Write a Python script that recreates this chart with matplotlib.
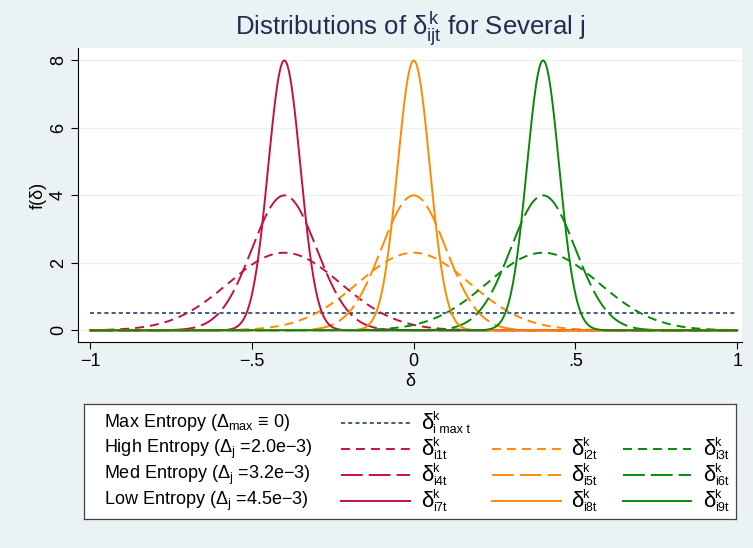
import numpy as np
import matplotlib.pyplot as plt

plt.rcParams['font.family'] = ['Liberation Sans', 'DejaVu Sans']
plt.rcParams['mathtext.fontset'] = 'custom'
plt.rcParams['mathtext.rm'] = 'Liberation Sans'
plt.rcParams['mathtext.it'] = 'Liberation Sans'
plt.rcParams['mathtext.sf'] = 'Liberation Sans'

# three groups of j, centred here
means = [-0.4, 0.0, 0.4]
# entropy levels, peak height of each density and its Delta_j
levels = ["High", "Med", "Low"]
peaks = [2.3, 4.0, 8.0]
deltas = ["2.0e\u22123", "3.2e\u22123", "4.5e\u22123"]
max_entropy = 0.5  # uniform on [-1, 1]

xticks = [-1, -0.5, 0, 0.5, 1]
xticklabels = ["\u22121", "\u2212.5", "0", ".5", "1"]
yticks = [0, 2, 4, 6, 8]

colors = ['#c4123f', '#ff8a00', '#0a870a']
lw = 1.4
dashes = [(0, (4.6, 3.1)), (0, (11.2, 3.1)), '-']
dots = (0, (2.1, 1.6))
navy = '#3f5f80'
bg = '#eaf2f3'

W, H = 753, 548
fig = plt.figure(figsize=(W / 100, H / 100), dpi=100, facecolor=bg)
ax = fig.add_axes([78 / W, 1 - 342 / H, (742 - 78) / W, (342 - 48) / H])
ax.set_facecolor('white')

x = np.linspace(-1, 1, 1001)
ax.plot(x, np.full_like(x, max_entropy), color=navy, lw=lw, ls=dots)
for lev, pk in enumerate(peaks):
    sd = 1 / (pk * np.sqrt(2 * np.pi))
    for g, mu in enumerate(means):
        y = pk * np.exp(-0.5 * ((x - mu) / sd) ** 2)
        ax.plot(x, y, color=colors[g], lw=lw, ls=dashes[lev])

ax.set_xlim(-1.038, 1.015)
ax.set_ylim(-0.347, 8.37)
ax.set_xticks(xticks)
ax.set_xticklabels(xticklabels)
ax.set_yticks(yticks)
ax.set_yticklabels([str(t) for t in yticks], rotation=90, va='center')
ax.tick_params(labelsize=13, length=5, width=0.8, color='black', pad=3)
ax.grid(axis='y', color=bg, lw=1)
ax.set_axisbelow(True)
for s in ['top', 'right']:
    ax.spines[s].set_visible(False)
for s in ['left', 'bottom']:
    ax.spines[s].set_linewidth(0.8)
ax.set_xlabel("\u03b4", fontsize=13, labelpad=2)
ax.set_ylabel("f(\u03b4)", fontsize=13, labelpad=2)
ax.set_title(r"Distributions of $\delta^{k}_{ijt}$ for Several j",
             fontsize=18.5, color='#1e2d50', pad=7)


def delta_sym(a, xs, yr, sub):
    a.text(xs, yr + 1, "\u03b4", fontsize=16, va='center', ha='left')
    a.text(xs + 11, yr - 6, "k", fontsize=9, va='center', ha='left')
    a.text(xs + 12, yr + 7, sub, fontsize=9, va='center', ha='left')


# legend box
lax = fig.add_axes([84 / W, 1 - 519 / H, (736 - 84) / W, (519 - 404) / H])
lax.set_xlim(84, 736)
lax.set_ylim(519, 404)
lax.set_xticks([])
lax.set_yticks([])
lax.set_facecolor('white')
for s in lax.spines.values():
    s.set_color('#444444')
    s.set_linewidth(0.9)

rows = [423, 449, 475, 501]
line_x = [(341, 410), (492, 561), (623, 691)]
sym_x = [421, 571, 703]
fs = 13

lax.text(104, rows[0], r"Max Entropy ($\Delta_{\mathrm{max}}$ " + "\u2261 0)",
         fontsize=fs, va='center')
lax.plot(line_x[0], [rows[0]] * 2, color=navy, lw=lw, ls=dots)
delta_sym(lax, sym_x[0], rows[0], "i max t")
n = 1
for lev in range(3):
    r = rows[lev + 1]
    lax.text(104, r, levels[lev] + r" Entropy ($\Delta_{j}$ =" + deltas[lev] + ")",
             fontsize=fs, va='center')
    for g in range(3):
        lax.plot(line_x[g], [r] * 2, color=colors[g], lw=lw, ls=dashes[lev])
        delta_sym(lax, sym_x[g], r, "i%dt" % n)
        n += 1

fig.savefig("out.png", dpi=100, facecolor=bg)
